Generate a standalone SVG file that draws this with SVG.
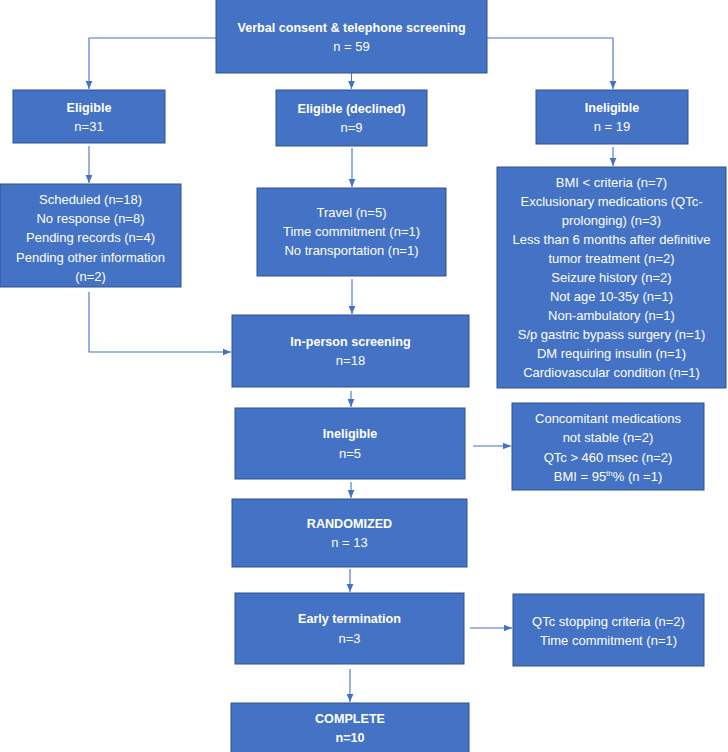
<svg xmlns="http://www.w3.org/2000/svg" width="728" height="752" viewBox="0 0 728 752">
<style>
.box{fill:#4472C4;stroke:#2F528F;stroke-width:1}
text{font-family:"Liberation Sans",Arial,sans-serif;fill:#ffffff;text-anchor:middle}
.b{font-weight:bold;font-size:12.6px}
.r{font-size:13px}
.c{fill:none;stroke:#4472C4;stroke-width:1.1}
</style>
<defs>
<marker id="ah" markerUnits="userSpaceOnUse" markerWidth="8" markerHeight="8" viewBox="0 0 10 10" refX="10" refY="5" orient="auto">
<path d="M0,0.8 L10,5 L0,9.2 Z" fill="#4472C4"/>
</marker>
</defs>
<rect width="728" height="752" fill="#ffffff"/>
<g id="connectors">
<path class="c" d="M216,38 H89 V89" marker-end="url(#ah)"/>
<path class="c" d="M351.5,73 V89" marker-end="url(#ah)"/>
<path class="c" d="M487,38 H613 V89" marker-end="url(#ah)"/>
<path class="c" d="M89,146 V183" marker-end="url(#ah)"/>
<path class="c" d="M352,148 V187" marker-end="url(#ah)"/>
<path class="c" d="M613,147 V166" marker-end="url(#ah)"/>
<path class="c" d="M89,292 V352 H231" marker-end="url(#ah)"/>
<path class="c" d="M352,279 V314" marker-end="url(#ah)"/>
<path class="c" d="M351,391 V407" marker-end="url(#ah)"/>
<path class="c" d="M473,446 H511" marker-end="url(#ah)"/>
<path class="c" d="M351,482 V498" marker-end="url(#ah)"/>
<path class="c" d="M350,569 V592" marker-end="url(#ah)"/>
<path class="c" d="M470,628 H512" marker-end="url(#ah)"/>
<path class="c" d="M350,669 V702" marker-end="url(#ah)"/>
</g>
<g id="n-verbal">
<rect class="box" x="216" y="-1" width="271" height="74"/>
<text class="b" x="351.5" y="32">Verbal consent &amp; telephone screening</text>
<text class="r" x="351.5" y="51">n = 59</text>
</g>
<g id="n-eligible">
<rect class="box" x="13" y="90" width="152" height="53"/>
<text class="b" x="89" y="112">Eligible</text>
<text class="r" x="89" y="131">n=31</text>
</g>
<g id="n-declined">
<rect class="box" x="276" y="90" width="151" height="56"/>
<text class="b" x="351.5" y="113">Eligible (declined)</text>
<text class="r" x="351.5" y="132">n=9</text>
</g>
<g id="n-ineligible1">
<rect class="box" x="536" y="90" width="152" height="54"/>
<text class="b" x="612" y="112">Ineligible</text>
<text class="r" x="612" y="131">n = 19</text>
</g>
<g id="n-eligible-list">
<rect class="box" x="0" y="184" width="181" height="103"/>
<text class="r" x="90.5" y="204">Scheduled (n=18)</text>
<text class="r" x="90.5" y="223">No response (n=8)</text>
<text class="r" x="90.5" y="242">Pending records (n=4)</text>
<text class="r" x="90.5" y="262">Pending other information</text>
<text class="r" x="90.5" y="281">(n=2)</text>
</g>
<g id="n-declined-list">
<rect class="box" x="257" y="188" width="189" height="88"/>
<text class="r" x="351.5" y="217">Travel (n=5)</text>
<text class="r" x="351.5" y="236">Time commitment (n=1)</text>
<text class="r" x="351.5" y="255">No transportation (n=1)</text>
</g>
<g id="n-ineligible-list">
<rect class="box" x="497" y="167" width="229" height="221"/>
<text class="r" x="611.5" y="187">BMI &lt; criteria (n=7)</text>
<text class="r" x="611.5" y="206">Exclusionary medications (QTc-</text>
<text class="r" x="611.5" y="225">prolonging) (n=3)</text>
<text class="r" x="611.5" y="244">Less than 6 months after definitive</text>
<text class="r" x="611.5" y="263">tumor treatment (n=2)</text>
<text class="r" x="611.5" y="282">Seizure history (n=2)</text>
<text class="r" x="611.5" y="301">Not age 10-35y (n=1)</text>
<text class="r" x="611.5" y="320">Non-ambulatory (n=1)</text>
<text class="r" x="611.5" y="339">S/p gastric bypass surgery (n=1)</text>
<text class="r" x="611.5" y="358">DM requiring insulin (n=1)</text>
<text class="r" x="611.5" y="377">Cardiovascular condition (n=1)</text>
</g>
<g id="n-inperson">
<rect class="box" x="232" y="315" width="237" height="72"/>
<text class="b" x="350.5" y="346">In-person screening</text>
<text class="r" x="350.5" y="365">n=18</text>
</g>
<g id="n-ineligible2">
<rect class="box" x="235" y="408" width="230" height="71"/>
<text class="b" x="350" y="438">Ineligible</text>
<text class="r" x="350" y="458">n=5</text>
</g>
<g id="n-ineligible2-list">
<rect class="box" x="512" y="403" width="192" height="87"/>
<text class="r" x="608" y="423">Concomitant medications</text>
<text class="r" x="608" y="442">not stable (n=2)</text>
<text class="r" x="608" y="462">QTc &gt; 460 msec (n=2)</text>
<text class="r" x="608" y="481">BMI = 95<tspan font-size="8" dy="-5">th</tspan><tspan dy="5">% (n =1)</tspan></text>
</g>
<g id="n-randomized">
<rect class="box" x="232" y="499" width="235" height="68"/>
<text class="b" x="349.5" y="528">RANDOMIZED</text>
<text class="r" x="349.5" y="547">n = 13</text>
</g>
<g id="n-early">
<rect class="box" x="235" y="593" width="229" height="71"/>
<text class="b" x="349.5" y="623">Early termination</text>
<text class="r" x="349.5" y="643">n=3</text>
</g>
<g id="n-early-list">
<rect class="box" x="513" y="594" width="191" height="72"/>
<text class="r" x="608.5" y="626">QTc stopping criteria (n=2)</text>
<text class="r" x="608.5" y="645">Time commitment (n=1)</text>
</g>
<g id="n-complete">
<rect class="box" x="231" y="703" width="238" height="55"/>
<text class="b" x="350" y="723">COMPLETE</text>
<text class="b" x="350" y="742">n=10</text>
</g>
</svg>
